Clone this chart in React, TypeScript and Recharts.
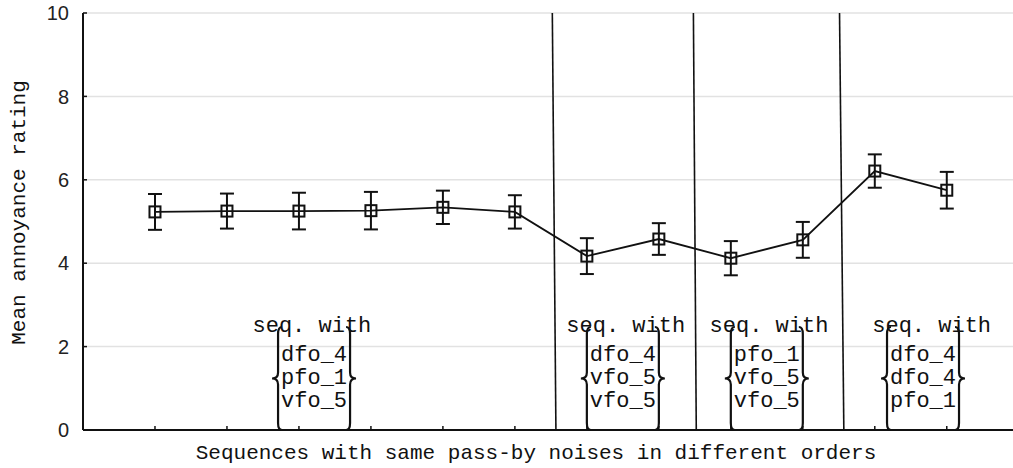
import React from 'react';
import { LineChart, Line, XAxis, YAxis, CartesianGrid, ErrorBar, ReferenceLine, ReferenceDot } from 'recharts';

// sequence positions, mean ratings and the half-length of each error bar
const positions = [1, 2, 3, 4, 5, 6, 7, 8, 9, 10, 11, 12];
const means = [5.23, 5.25, 5.25, 5.26, 5.34, 5.23, 4.17, 4.58, 4.12, 4.56, 6.21, 5.75];
const errors = [0.43, 0.42, 0.44, 0.45, 0.4, 0.4, 0.43, 0.38, 0.41, 0.43, 0.4, 0.44];

const yTicks = [0, 2, 4, 6, 8, 10];

// slanted separators between the groups (x at top and at bottom)
const sepTop = [6.52, 8.48, 10.51];
const sepBottom = [6.57, 8.52, 10.57];

// "seq. with {..}" notes
const headerCenters = [3.18, 7.54, 9.53, 11.79];
const groupCenters = [3.21, 7.5, 9.5, 11.67];
const groupItems = [
  ['dfo_4', 'pfo_1', 'vfo_5'],
  ['dfo_4', 'vfo_5', 'vfo_5'],
  ['pfo_1', 'vfo_5', 'vfo_5'],
  ['dfo_4', 'dfo_4', 'pfo_1'],
];

const data = positions.map((x, i) => ({ x, mean: means[i], err: errors[i] }));

const MONO = '"Liberation Mono", "Courier New", monospace';
const SANS = '"Liberation Sans", Arial, sans-serif';
const INK = '#111';

const SquareDot = (props: any) => {
  const { cx, cy } = props;
  if (cx == null || cy == null) return null;
  return <rect x={cx - 5.5} y={cy - 5.5} width={11} height={11} fill="none" stroke={INK} strokeWidth={2} />;
};

const leftBrace = (xv: number, top: number, bot: number) => {
  const mid = (top + bot) / 2;
  return `M${xv + 4},${top} Q${xv},${top} ${xv},${top + 7} L${xv},${mid - 6} Q${xv},${mid} ${xv - 6},${mid} Q${xv},${mid} ${xv},${mid + 6} L${xv},${bot - 7} Q${xv},${bot} ${xv + 4},${bot}`;
};
const rightBrace = (xv: number, top: number, bot: number) => {
  const mid = (top + bot) / 2;
  return `M${xv - 4},${top} Q${xv},${top} ${xv},${top + 7} L${xv},${mid - 6} Q${xv},${mid} ${xv + 6},${mid} Q${xv},${mid} ${xv},${mid + 6} L${xv},${bot - 7} Q${xv},${bot} ${xv - 4},${bot}`;
};

const GroupList = ({ cx, cy, items }: { cx: number; cy: number; items: string[] }) => {
  const top = cy - 103;
  return (
    <g>
      {items.map((t, i) => (
        <text key={i} x={cx} y={cy - 69 + i * 23} textAnchor="middle" fontFamily={MONO} fontSize={22} fill={INK}>
          {t}
        </text>
      ))}
      <path d={leftBrace(cx - 36, top, cy)} fill="none" stroke={INK} strokeWidth={2.2} />
      <path d={rightBrace(cx + 36, top, cy)} fill="none" stroke={INK} strokeWidth={2.2} />
    </g>
  );
};

const GroupHeader = ({ cx, cy }: { cx: number; cy: number }) => (
  <text x={cx} y={cy - 98} textAnchor="middle" fontFamily={MONO} fontSize={22} fill={INK}>
    seq. with
  </text>
);

const BottomTick = (props: any) => {
  const { x, y } = props;
  return <line x1={x} x2={x} y1={y} y2={y - 4} stroke={INK} strokeWidth={1.5} />;
};
const TopTick = (props: any) => {
  const { x, y } = props;
  return <line x1={x} x2={x} y1={y} y2={y + 4} stroke={INK} strokeWidth={1.5} />;
};
const YTick = (props: any) => {
  const { x, y, payload } = props;
  return (
    <g>
      <line x1={x} x2={x + 4} y1={y} y2={y} stroke={INK} strokeWidth={1.5} />
      <text x={x - 14} y={y} dy="0.36em" textAnchor="end" fontFamily={SANS} fontSize={20} fill="#222">
        {payload.value}
      </text>
    </g>
  );
};

export default function App() {
  return (
    <div style={{ position: 'absolute', left: 0, top: 0, width: 1013, height: 468, overflow: 'hidden', background: '#fff' }}>
      <LineChart width={1013} height={468} data={data} margin={{ top: 13, right: 0, bottom: 0, left: 0 }}>
        <CartesianGrid vertical={false} stroke="#e2e2e2" strokeWidth={1.5} />
        <XAxis
          type="number"
          dataKey="x"
          domain={[0, 12.92]}
          allowDataOverflow
          ticks={positions}
          height={38}
          tickSize={0}
          tickMargin={0}
          tickLine={false}
          tick={<BottomTick />}
          axisLine={{ stroke: INK, strokeWidth: 2 }}
          label={{
            content: () => (
              <text x={536} y={459} textAnchor="middle" fontFamily={MONO} fontSize={21} fill={INK}>
                Sequences with same pass-by noises in different orders
              </text>
            ),
          }}
        />
        <XAxis
          xAxisId="top"
          orientation="top"
          type="number"
          dataKey="x"
          domain={[0, 12.92]}
          allowDataOverflow
          ticks={positions}
          height={0}
          tickSize={0}
          tickMargin={0}
          tickLine={false}
          tick={<TopTick />}
          axisLine={{ stroke: INK, strokeWidth: 2 }}
        />
        <YAxis
          domain={[0, 10]}
          ticks={yTicks}
          width={83}
          tickSize={0}
          tickMargin={0}
          tickLine={false}
          tick={<YTick />}
          axisLine={{ stroke: INK, strokeWidth: 2 }}
          label={{
            content: (p: any) => {
              const vb = p.viewBox;
              const cy = vb.y + vb.height / 2 - 9;
              return (
                <text x={25} y={cy} transform={`rotate(-90, 25, ${cy})`} textAnchor="middle" fontFamily={MONO} fontSize={21} fill={INK}>
                  Mean annoyance rating
                </text>
              );
            },
          }}
        />
        {sepTop.map((xt, i) => (
          <ReferenceLine
            key={`sep${i}`}
            segment={[
              { x: xt, y: 10 },
              { x: sepBottom[i], y: 0 },
            ]}
            stroke={INK}
            strokeWidth={1.6}
          />
        ))}
        {headerCenters.map((hx, i) => (
          <ReferenceDot
            key={`h${i}`}
            x={hx}
            y={0}
            ifOverflow="visible"
            shape={(p: any) => <GroupHeader cx={p.cx} cy={p.cy} />}
          />
        ))}
        {groupCenters.map((gx, i) => (
          <ReferenceDot
            key={`g${i}`}
            x={gx}
            y={0}
            ifOverflow="visible"
            shape={(p: any) => <GroupList cx={p.cx} cy={p.cy} items={groupItems[i]} />}
          />
        ))}
        <Line
          type="linear"
          dataKey="mean"
          stroke={INK}
          strokeWidth={1.8}
          dot={<SquareDot />}
          activeDot={false}
          isAnimationActive={false}
        >
          <ErrorBar dataKey="err" direction="y" width={7} stroke={INK} strokeWidth={2} isAnimationActive={false} />
        </Line>
      </LineChart>
    </div>
  );
}
